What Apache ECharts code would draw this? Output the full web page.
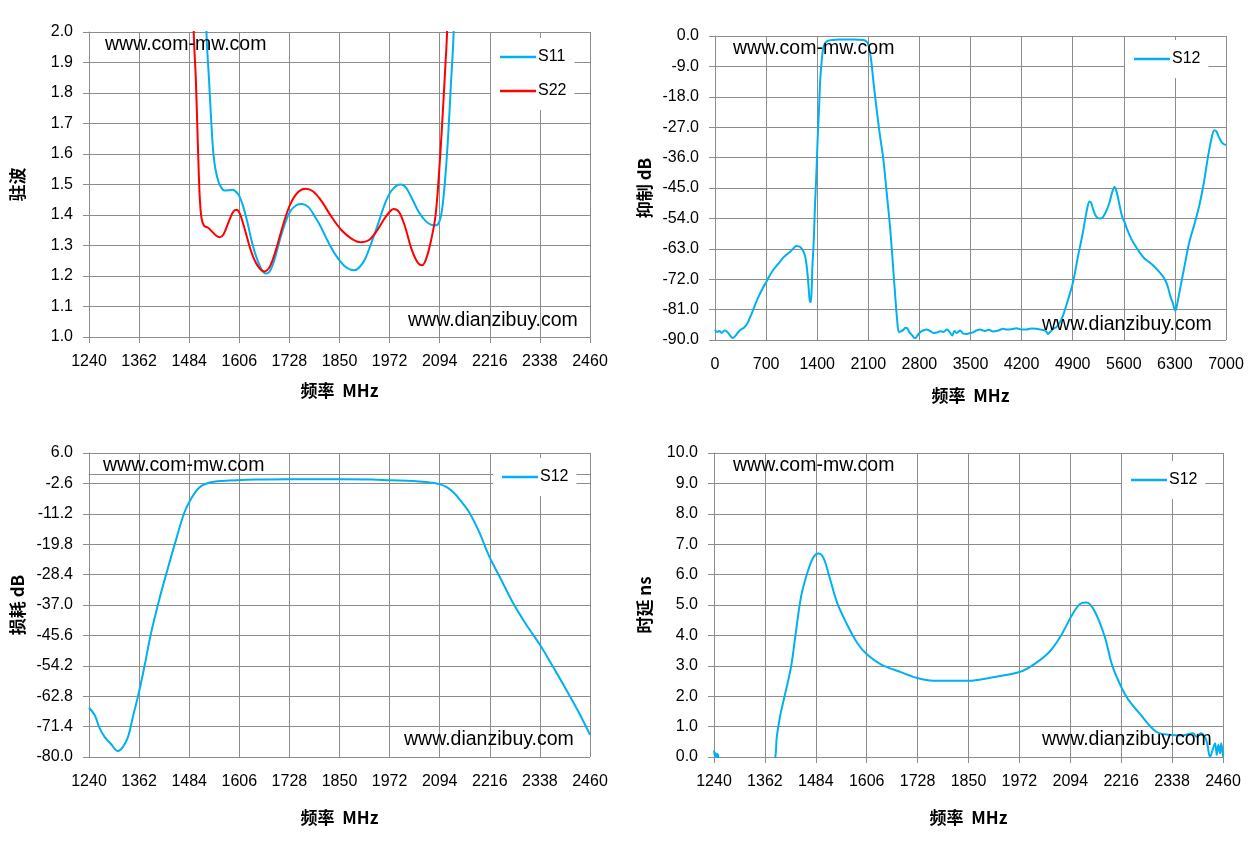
<!DOCTYPE html>
<html>
<head>
<meta charset="utf-8">
<script src="https://cdn.jsdelivr.net/npm/echarts@6/dist/echarts.min.js"></script>
<style>
  html, body { margin: 0; padding: 0; background: #fff; }
  #chart { width: 1256px; height: 844px; }
</style>
</head>
<body>
<div id="chart"></div>
<script>
// 驻波 (VSWR)
const vswrS11Freq = [1520, 1526, 1532, 1538, 1543, 1548, 1555, 1562, 1570, 1580, 1590, 1598, 1606, 1615, 1625, 1637, 1648, 1660, 1670, 1680, 1692, 1705, 1718, 1730, 1745, 1759, 1775, 1790, 1805, 1820, 1840, 1860, 1875, 1886, 1898, 1912, 1928, 1945, 1960, 1975, 1990, 2000, 2012, 2028, 2043, 2060, 2075, 2084, 2092, 2100, 2108, 2115, 2121, 2128, 2135];
const vswrS11 = [2.5, 2.0, 1.85, 1.70, 1.60, 1.55, 1.51, 1.49, 1.48, 1.481, 1.483, 1.476, 1.462, 1.43, 1.38, 1.31, 1.26, 1.222, 1.208, 1.215, 1.255, 1.32, 1.375, 1.412, 1.432, 1.436, 1.425, 1.395, 1.36, 1.318, 1.27, 1.235, 1.222, 1.219, 1.228, 1.255, 1.31, 1.375, 1.435, 1.477, 1.497, 1.5, 1.49, 1.45, 1.41, 1.38, 1.367, 1.366, 1.374, 1.42, 1.53, 1.67, 1.82, 2.0, 2.4];
const vswrS22Freq = [1488, 1495, 1500, 1504, 1507, 1510, 1514, 1520, 1530, 1540, 1550, 1558, 1567, 1578, 1590, 1599, 1607, 1620, 1635, 1650, 1667, 1680, 1695, 1712, 1730, 1750, 1768, 1785, 1805, 1830, 1855, 1880, 1902, 1922, 1942, 1962, 1982, 1995, 2010, 2025, 2040, 2051, 2062, 2075, 2084, 2092, 2100, 2107, 2112, 2118];
const vswrS22 = [2.6, 2.0, 1.85, 1.68, 1.55, 1.45, 1.39, 1.365, 1.358, 1.345, 1.332, 1.327, 1.335, 1.37, 1.408, 1.417, 1.405, 1.35, 1.28, 1.235, 1.215, 1.23, 1.285, 1.365, 1.435, 1.476, 1.486, 1.478, 1.448, 1.395, 1.35, 1.322, 1.311, 1.318, 1.35, 1.393, 1.42, 1.41, 1.36, 1.29, 1.245, 1.235, 1.26, 1.33, 1.40, 1.53, 1.70, 1.87, 2.0, 2.3];

// 抑制 (rejection, wide span)
const rejFreq = [0, 30, 60, 90, 128, 170, 210, 243, 270, 300, 330, 357, 400, 440, 480, 518, 560, 600, 650, 701, 750, 800, 884, 950, 1022, 1070, 1113, 1150, 1182, 1215, 1242, 1270, 1297, 1310, 1322, 1335, 1352, 1370, 1388, 1405, 1425, 1440, 1457, 1470, 1489, 1520, 1549, 1600, 1663, 1750, 1847, 1950, 2030, 2075, 2099, 2120, 2144, 2170, 2213, 2260, 2305, 2350, 2396, 2430, 2465, 2495, 2520, 2550, 2580, 2610, 2635, 2660, 2700, 2740, 2770, 2809, 2850, 2900, 2950, 2992, 3040, 3084, 3130, 3175, 3220, 3250, 3280, 3310, 3359, 3400, 3450, 3491, 3540, 3580, 3628, 3700, 3750, 3810, 3880, 3947, 4000, 4060, 4129, 4200, 4266, 4330, 4402, 4480, 4530, 4562, 4600, 4640, 4676, 4720, 4767, 4830, 4904, 4970, 5040, 5090, 5131, 5155, 5177, 5210, 5245, 5280, 5314, 5360, 5405, 5440, 5473, 5500, 5542, 5575, 5610, 5650, 5701, 5760, 5815, 5880, 5952, 6020, 6088, 6157, 6200, 6234, 6270, 6307, 6330, 6362, 6430, 6498, 6570, 6635, 6700, 6749, 6800, 6840, 6870, 6900, 6954, 7000];
const rejS12 = [-86.9, -87.6, -87.3, -87.9, -87.2, -87.6, -88.8, -89.4, -89.0, -88.2, -87.4, -86.9, -86.3, -85.2, -83.3, -81.3, -79.0, -77.0, -74.8, -72.9, -70.9, -69.2, -67.0, -65.3, -64.0, -63.0, -62.2, -62.3, -62.8, -64.0, -66.0, -71.0, -78.3, -78.8, -76.0, -68.0, -61.0, -50.0, -41.2, -31.0, -21.5, -13.5, -8.6, -5.5, -3.0, -1.8, -1.4, -1.2, -1.1, -1.0, -1.0, -1.1, -1.2, -1.6, -2.5, -4.5, -8.0, -13.5, -21.5, -29.5, -36.3, -46.0, -56.1, -65.5, -75.9, -84.0, -87.7, -87.4, -87.0, -86.4, -86.5, -87.6, -88.6, -89.5, -88.8, -87.7, -87.2, -86.9, -87.4, -87.9, -87.8, -87.4, -87.6, -86.9, -87.8, -88.7, -87.3, -87.9, -87.2, -88.1, -88.2, -87.9, -87.7, -87.2, -86.9, -87.3, -87.0, -87.5, -87.2, -86.7, -86.9, -86.8, -86.5, -86.9, -86.9, -86.6, -86.7, -87.0, -87.3, -88.2, -87.4, -86.6, -86.2, -85.0, -82.8, -78.5, -72.9, -65.5, -58.1, -52.0, -49.0, -49.5, -51.1, -53.0, -53.9, -54.0, -53.6, -51.8, -49.2, -46.3, -44.7, -46.0, -50.1, -53.3, -55.1, -57.5, -60.0, -62.2, -64.0, -65.8, -67.0, -68.3, -69.9, -71.9, -74.0, -76.8, -79.0, -81.3, -79.5, -75.9, -68.3, -61.0, -55.5, -50.1, -43.0, -36.3, -30.5, -27.9, -28.3, -29.8, -31.8, -32.3];

// 损耗 (insertion loss)
const lossFreq = [1240, 1254, 1266, 1278, 1294, 1310, 1322, 1335, 1347, 1361, 1375, 1391, 1411, 1431, 1452, 1472, 1488, 1508, 1532, 1565, 1654, 1729, 1849, 1930, 1974, 2030, 2061, 2080, 2094, 2110, 2128, 2145, 2166, 2190, 2214, 2240, 2272, 2305, 2340, 2370, 2397, 2430, 2460];
const lossS12 = [-66.0, -68.2, -71.9, -74.3, -76.4, -78.3, -77.3, -74.3, -68.6, -62.0, -54.4, -45.0, -35.5, -27.0, -18.5, -10.9, -7.1, -3.8, -2.4, -1.9, -1.5, -1.4, -1.4, -1.5, -1.7, -1.9, -2.2, -2.5, -2.8, -3.6, -5.2, -7.5, -10.8, -16.3, -23.1, -29.0, -36.3, -42.6, -48.6, -54.5, -59.9, -66.8, -73.7];

// 时延 (group delay)
const delayFreq = [1240, 1242, 1244, 1246, 1248, 1250, 1253, 1300, 1370, 1387, 1390, 1393, 1400, 1411, 1425, 1435, 1449, 1464, 1478, 1490, 1502, 1516, 1535, 1559, 1583, 1607, 1641, 1688, 1727, 1765, 1851, 1899, 1966, 1994, 2042, 2071, 2099, 2119, 2133, 2152, 2176, 2195, 2219, 2233, 2262, 2299, 2331, 2364, 2388, 2396, 2403, 2407, 2417, 2422, 2429, 2435, 2441, 2445, 2449, 2453, 2456, 2460];
const delayS12 = [0.22, 0.05, 0.12, -0.1, 0.1, 0.02, -0.8, -2.0, -1.0, 0.0, 0.6, 0.9, 1.45, 2.11, 2.99, 3.98, 5.3, 6.07, 6.56, 6.69, 6.56, 5.96, 5.08, 4.36, 3.76, 3.37, 3.04, 2.79, 2.60, 2.51, 2.51, 2.60, 2.77, 2.93, 3.43, 3.98, 4.69, 5.05, 5.08, 4.80, 3.98, 2.99, 2.22, 1.89, 1.40, 0.84, 0.73, 0.71, 0.78, 0.67, 0.75, 0.78, 0.65, 0.45, 0.0, 0.23, 0.45, 0.07, 0.40, 0.12, 0.45, 0.01];

const zip = (xs, ys) => xs.map((x, i) => [x, ys[i]]);

const BLUE = '#00B0F0';
const RED = '#FF0000';
const GRID_GRAY = '#8c8c8c';
const TICK_FONT = 'Liberation Sans';
const TITLE_FONT = '"Noto Sans CJK SC", sans-serif';

const makeX = (gridIndex, min, max, interval, nameGap) => ({
    type: 'value', gridIndex, min, max, interval,
    name: '频率  MHz', nameLocation: 'middle', nameGap,
    nameTextStyle: { fontFamily: TITLE_FONT, fontWeight: 'bold', fontSize: 17, color: '#000' },
    axisLine: { show: true, lineStyle: { color: GRID_GRAY } },
    axisTick: { show: true, length: 6, lineStyle: { color: GRID_GRAY } },
    axisLabel: { fontFamily: TICK_FONT, fontSize: 16, color: '#000', margin: 17,
        formatter: v => String(v) },
    splitLine: { show: true, lineStyle: { color: GRID_GRAY, width: 1 } }
});
const makeY = (gridIndex, min, max, interval, name, nameGap) => ({
    type: 'value', gridIndex, min, max, interval,
    name, nameLocation: 'middle', nameGap, nameRotate: 90,
    nameTextStyle: { fontFamily: TITLE_FONT, fontWeight: 'bold', fontSize: 17, color: '#000' },
    axisLine: { show: true, lineStyle: { color: GRID_GRAY } },
    axisTick: { show: true, length: 6, lineStyle: { color: GRID_GRAY } },
    axisLabel: { fontFamily: TICK_FONT, fontSize: 16, color: '#000', margin: 16,
        formatter: v => v.toFixed(1) },
    splitLine: { show: true, lineStyle: { color: GRID_GRAY, width: 1 } }
});
const makeLegend = (left, top, names) => ({
    left, top, orient: 'vertical', data: names,
    backgroundColor: '#fff', padding: [10, 8, 10, 9], itemGap: 16,
    icon: 'rect', itemWidth: 36, itemHeight: 2.5,
    textStyle: { fontFamily: TICK_FONT, fontSize: 16, lineHeight: 18, color: '#000', padding: [0, 0, 0, -3] }
});
const makeLine = (name, xIndex, data, color) => ({
    name, type: 'line', xAxisIndex: xIndex, yAxisIndex: xIndex,
    data, smooth: 0.35, symbol: 'none', clip: true,
    lineStyle: { color, width: 2 }, itemStyle: { color }
});
const mark = (left, top, text) => ({
    type: 'text', left, top, z: 100,
    style: { text, font: '19.5px "Liberation Sans"', fill: '#000' }
});

const chart = echarts.init(document.getElementById('chart'));
chart.setOption({
    animation: false,
    backgroundColor: '#fff',
    grid: [
        { left: 89, top: 32, width: 501, height: 305 },
        { left: 715, top: 36, width: 511, height: 304 },
        { left: 89, top: 453, width: 501, height: 304 },
        { left: 714, top: 453, width: 509, height: 304 }
    ],
    xAxis: [
        makeX(0, 1240, 2460, 122, 45),
        makeX(1, 0, 7000, 700, 47),
        makeX(2, 1240, 2460, 122, 52),
        makeX(3, 1240, 2460, 122, 52)
    ],
    yAxis: [
        makeY(0, 1.0, 2.0, 0.1, '驻波', 63),
        makeY(1, -90, 0, 9, '抑制 dB', 62),
        makeY(2, -80, 6, 8.6, '损耗 dB', 63),
        makeY(3, 0, 10, 1, '时延 ns', 61)
    ],
    legend: [
        makeLegend(491, 38, ['S11', 'S22']),
        makeLegend(1125, 40, ['S12']),
        makeLegend(493, 458, ['S12']),
        makeLegend(1122, 461, ['S12'])
    ],
    graphic: [
        mark(105, 35, 'www.com-mw.com'),
        mark(408, 311, 'www.dianzibuy.com'),
        mark(733, 39, 'www.com-mw.com'),
        mark(1042, 315, 'www.dianzibuy.com'),
        mark(103, 456, 'www.com-mw.com'),
        mark(404, 730, 'www.dianzibuy.com'),
        mark(733, 456, 'www.com-mw.com'),
        mark(1042, 730, 'www.dianzibuy.com')
    ],
    series: [
        makeLine('S11', 0, zip(vswrS11Freq, vswrS11), BLUE),
        makeLine('S22', 0, zip(vswrS22Freq, vswrS22), RED),
        makeLine('S12', 1, zip(rejFreq, rejS12), BLUE),
        makeLine('S12', 2, zip(lossFreq, lossS12), BLUE),
        makeLine('S12', 3, zip(delayFreq, delayS12), BLUE)
    ]
});
</script>
</body>
</html>
